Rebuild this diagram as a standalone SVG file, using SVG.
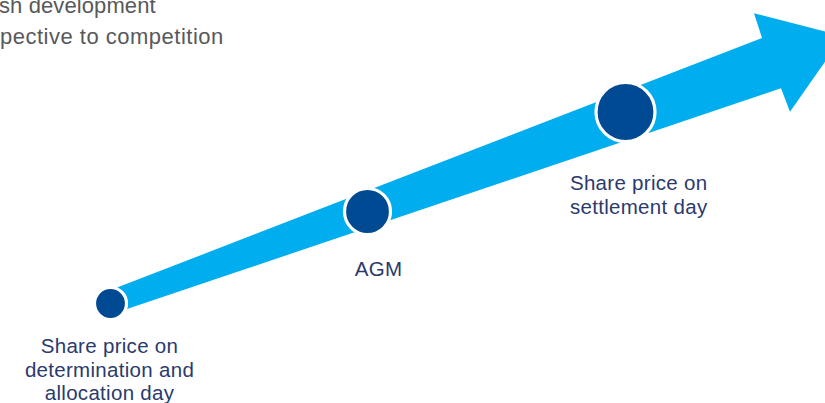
<svg xmlns="http://www.w3.org/2000/svg" width="825" height="403" viewBox="0 0 825 403">
  <style>
    .intro { font-family: "Liberation Sans", Arial, sans-serif; font-size: 22px; fill: #58595b; }
    .label { font-family: "Liberation Sans", Arial, sans-serif; font-size: 20.5px; fill: #2b3a6c; text-anchor: middle; letter-spacing: 0.3px; }
    .dot { fill: #004a93; stroke: #ffffff; stroke-width: 3.2; }
  </style>

  <!-- intro text, running off the left edge -->
  <g id="intro">
    <text class="intro" x="-1" y="12.5" letter-spacing="0.1">sh development</text>
    <text class="intro" x="0" y="44" letter-spacing="0.5">pective to competition</text>
  </g>

  <!-- rising arrow -->
  <g id="connectors">
    <polygon fill="#00aeef" points="110,290.3 762,38 754,13.3 843,36.2 790,111.7 781,88.3 110,314.8"/>
  </g>

  <g id="node-determination">
    <circle class="dot" cx="110.5" cy="303.5" r="16"/>
    <text class="label" x="109.5" y="353">Share price on</text>
    <text class="label" x="109.5" y="376.5" letter-spacing="0.45">determination and</text>
    <text class="label" x="109.5" y="400">allocation day</text>
  </g>

  <g id="node-agm">
    <circle class="dot" cx="367.5" cy="211.5" r="23"/>
    <text class="label" x="378.5" y="276">AGM</text>
  </g>

  <g id="node-settlement">
    <circle class="dot" cx="625.5" cy="112" r="29.5"/>
    <text class="label" x="638.7" y="190">Share price on</text>
    <text class="label" x="638.7" y="213.5">settlement day</text>
  </g>
</svg>
